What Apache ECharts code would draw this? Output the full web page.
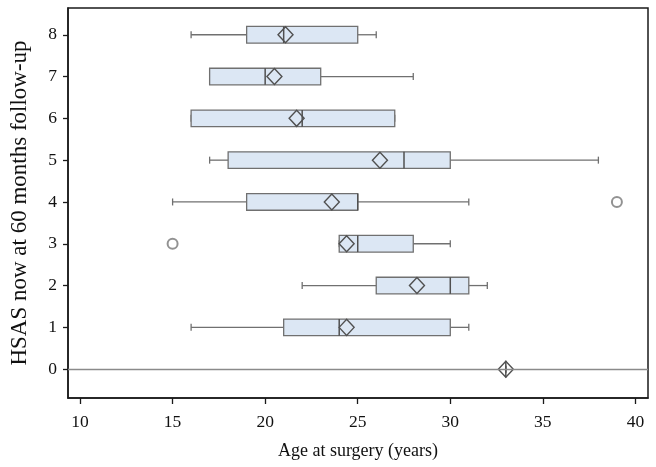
<!DOCTYPE html>
<html>
<head>
<meta charset="utf-8">
<script src="https://cdn.jsdelivr.net/npm/echarts@6/dist/echarts.min.js"></script>
<style>html,body{margin:0;padding:0;background:#fff}#c{width:656px;height:467px}</style>
</head>
<body>
<div id="c"></div>
<script>
// HSAS score categories (y) and box-plot statistics of age at surgery (x)
const categories  = [0, 1, 2, 3, 4, 5, 6, 7, 8];
const whiskerLow  = [33, 16, 22, 24, 15, 17, 16, 17, 16];
const q1          = [33, 21, 26, 24, 19, 18, 16, 17, 19];
const median      = [33, 24, 30, 25, 25, 27.5, 22, 20, 21];
const q3          = [33, 30, 31, 28, 25, 30, 27, 23, 25];
const whiskerHigh = [33, 31, 32, 30, 31, 38, 27, 28, 26];
const means       = [33, 24.4, 28.2, 24.4, 23.6, 26.2, 21.7, 20.5, 21.1];
const outlierAge  = [15, 39];
const outlierCat  = [3, 4];
const xTicks = [10, 15, 20, 25, 30, 35, 40];
const yTicks = [0, 1, 2, 3, 4, 5, 6, 7, 8];

const boxData = categories.map((c, i) => [c, whiskerLow[i], q1[i], median[i], q3[i], whiskerHigh[i], means[i]]);
const outlierData = outlierAge.map((a, i) => [a, outlierCat[i]]);

const LINE = '#707070';
const DARK = '#505050';
const FILL = '#dce7f4';

function renderBox(params, api) {
  const c = api.value(0);
  const pLo = api.coord([api.value(1), c]);
  const pQ1 = api.coord([api.value(2), c]);
  const pMed = api.coord([api.value(3), c]);
  const pQ3 = api.coord([api.value(4), c]);
  const pHi = api.coord([api.value(5), c]);
  const pMean = api.coord([api.value(6), c]);
  const y = pLo[1];
  const h = 8.3, cap = 3.5, dw = 7.5, dh = 8;
  const kids = [];
  const ls = {stroke: LINE, lineWidth: 1.3, fill: null};
  if (pQ1[0] - pLo[0] > 0.5) kids.push({type: 'line', shape: {x1: pLo[0], y1: y, x2: pQ1[0], y2: y}, style: ls});
  if (pHi[0] - pQ3[0] > 0.5) kids.push({type: 'line', shape: {x1: pQ3[0], y1: y, x2: pHi[0], y2: y}, style: ls});
  kids.push({type: 'line', shape: {x1: pLo[0], y1: y - cap, x2: pLo[0], y2: y + cap}, style: ls});
  kids.push({type: 'line', shape: {x1: pHi[0], y1: y - cap, x2: pHi[0], y2: y + cap}, style: ls});
  if (pQ3[0] - pQ1[0] > 0.5) {
    kids.push({type: 'rect', shape: {x: pQ1[0], y: y - h, width: pQ3[0] - pQ1[0], height: 2 * h},
      style: {fill: FILL, stroke: LINE, lineWidth: 1.3}});
  }
  kids.push({type: 'line', shape: {x1: pMed[0], y1: y - h, x2: pMed[0], y2: y + h}, style: {stroke: DARK, lineWidth: 1.5}});
  kids.push({type: 'polygon', shape: {points: [[pMean[0] - dw, y], [pMean[0], y - dh], [pMean[0] + dw, y], [pMean[0], y + dh]]},
    style: {fill: null, stroke: DARK, lineWidth: 1.4}});
  return {type: 'group', children: kids};
}

const chart = echarts.init(document.getElementById('c'), null, {renderer: 'canvas'});
chart.setOption({
  animation: false,
  backgroundColor: '#fff',
  textStyle: {fontFamily: 'Liberation Serif'},
  grid: {left: 68, right: 8, top: 8, bottom: 69, show: true, borderColor: '#1a1a1a', borderWidth: 1.5, containLabel: false},
  xAxis: {
    type: 'value', min: 9.35, max: 40.68,
    name: 'Age at surgery (years)', nameLocation: 'middle', nameGap: 44,
    nameTextStyle: {fontFamily: 'Liberation Serif', fontSize: 18, color: '#111'},
    axisLine: {show: true, onZero: false, lineStyle: {color: '#1a1a1a', width: 1.5}},
    axisTick: {show: true, length: 6, customValues: xTicks, lineStyle: {color: '#1a1a1a', width: 1.3}},
    axisLabel: {customValues: xTicks, margin: 15, fontSize: 17.5, color: '#111', fontFamily: 'Liberation Serif'},
    splitLine: {show: false}
  },
  yAxis: {
    type: 'value', min: -0.69, max: 8.64,
    name: 'HSAS now at 60 months follow-up', nameLocation: 'middle', nameGap: 37, nameRotate: 90,
    nameTextStyle: {fontFamily: 'Liberation Serif', fontSize: 23, color: '#111'},
    axisLine: {show: true, onZero: false, lineStyle: {color: '#1a1a1a', width: 1.5}},
    axisTick: {show: true, length: 5, customValues: yTicks, lineStyle: {color: '#1a1a1a', width: 1.3}},
    axisLabel: {customValues: yTicks, margin: 11, fontSize: 17.5, color: '#111', fontFamily: 'Liberation Serif'},
    splitLine: {show: false}
  },
  series: [
    {
      type: 'custom', renderItem: renderBox, data: boxData, encode: {x: [1, 2, 3, 4, 5, 6], y: 0}, z: 3,
      markLine: {silent: true, symbol: 'none', label: {show: false},
        lineStyle: {color: '#8a8a8a', width: 1.3, type: 'solid'}, data: [{yAxis: 0}]}
    },
    {
      type: 'scatter', data: outlierData, symbol: 'emptyCircle', symbolSize: 10,
      itemStyle: {color: '#777', borderColor: '#777', borderWidth: 1.3}, z: 4
    }
  ]
});
</script>
</body>
</html>
